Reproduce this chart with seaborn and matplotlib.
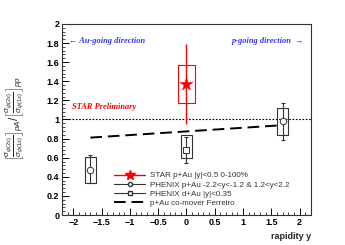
import matplotlib
matplotlib.use("Agg")
import matplotlib.pyplot as plt
import seaborn as sns
import pandas as pd
from matplotlib.patches import Rectangle
from matplotlib.lines import Line2D

# STAR p+Au
star_x = [0.0]
star_y = [1.37]
star_stat = [0.42]
star_sys = [0.20]

# PHENIX p+Au (circles)
phx_pau_x = [-1.7, 1.7]
phx_pau_y = [0.47, 0.98]
phx_pau_stat_lo = [0.14, 0.19]
phx_pau_stat_hi = [0.16, 0.19]
phx_pau_sys_lo = [0.13, 0.14]
phx_pau_sys_hi = [0.14, 0.14]

# PHENIX d+Au (square)
phx_dau_x = [0.0]
phx_dau_y = [0.68]
phx_dau_stat = [0.14]
phx_dau_sys_lo = [0.08]
phx_dau_sys_hi = [0.16]

# Ferreiro co-mover
ferr_x = [-1.7, 0.0, 1.7]
ferr_y = [0.81, 0.875, 0.94]

sns.set_style("white")
plt.rcParams['font.family'] = ['Liberation Sans', 'DejaVu Sans']
plt.rcParams['mathtext.fontset'] = 'custom'
plt.rcParams['mathtext.rm'] = 'Liberation Sans'
plt.rcParams['mathtext.it'] = 'Liberation Sans:italic'

fig = plt.figure(figsize=(3.45, 2.45), dpi=100)
ax = fig.add_axes([0.18, 0.1224, 0.721, 0.78])

# dotted line at 1
ax.axhline(1.0, color='black', ls=(0, (1.5, 1.5)), lw=0.8, zorder=1)

# Ferreiro
sns.lineplot(x=ferr_x, y=ferr_y, ax=ax, color='black', lw=1.4,
             dashes=False, zorder=2)
ax.lines[-1].set_dashes([6, 3])

# PHENIX p+Au boxes and errors
for x, y, slo, shi, elo, ehi in zip(phx_pau_x, phx_pau_y, phx_pau_sys_lo, phx_pau_sys_hi,
                                    phx_pau_stat_lo, phx_pau_stat_hi):
    ax.add_patch(Rectangle((x - 0.1, y - slo), 0.2, slo + shi, fill=False,
                           ec='#333333', lw=0.8, zorder=3))
    ax.errorbar([x], [y], yerr=[[elo], [ehi]], fmt='none', ecolor='#333333',
                elinewidth=0.8, capsize=1.5, capthick=0.8, zorder=3)
sns.scatterplot(x=phx_pau_x, y=phx_pau_y, ax=ax, marker='o', s=22,
                facecolor='white', edgecolor='#333333', linewidth=0.7, zorder=4)

# PHENIX d+Au
for x, y, slo, shi, e in zip(phx_dau_x, phx_dau_y, phx_dau_sys_lo, phx_dau_sys_hi, phx_dau_stat):
    ax.add_patch(Rectangle((x - 0.1, y - slo), 0.2, slo + shi, fill=False,
                           ec='#333333', lw=0.8, zorder=3))
    ax.errorbar([x], [y], yerr=[[e], [e]], fmt='none', ecolor='#333333',
                elinewidth=0.8, capsize=1.5, capthick=0.8, zorder=3)
sns.scatterplot(x=phx_dau_x, y=phx_dau_y, ax=ax, marker='s', s=20,
                facecolor='white', edgecolor='#333333', linewidth=0.7, zorder=4)

# STAR
for x, y, s, e in zip(star_x, star_y, star_sys, star_stat):
    ax.add_patch(Rectangle((x - 0.15, y - s), 0.3, 2 * s, fill=False,
                           ec='red', lw=0.8, zorder=3))
    ax.errorbar([x], [y], yerr=[[e], [e]], fmt='none', ecolor='red',
                elinewidth=1.0, capsize=0, zorder=3)
sns.scatterplot(x=star_x, y=star_y, ax=ax, marker='*', s=100, color='red',
                edgecolor='red', linewidth=0.3, zorder=5)

ax.set_xlim(-2.2, 2.2)
ax.set_ylim(0, 2)
ax.set_xticks([-2, -1.5, -1, -0.5, 0, 0.5, 1, 1.5, 2])
ax.set_xticklabels(['\u22122', '\u22121.5', '\u22121', '\u22120.5', '0', '0.5', '1', '1.5', '2'])
ax.set_yticks([0, 0.2, 0.4, 0.6, 0.8, 1, 1.2, 1.4, 1.6, 1.8, 2])
ax.set_yticklabels(['0', '0.2', '0.4', '0.6', '0.8', '1', '1.2', '1.4', '1.6', '1.8', '2'])
ax.set_xticks([i / 10 for i in range(-22, 23)], minor=True)
ax.set_yticks([i / 25 for i in range(0, 51)], minor=True)
ax.tick_params(axis='both', which='major', direction='in', length=5, width=0.7,
               labelsize=6.5, pad=2, colors='black')
ax.tick_params(axis='both', which='minor', direction='in', length=2.5, width=0.6)
ax.tick_params(axis='both', which='both', top=False, right=False, bottom=True, left=True)
for lbl in ax.get_xticklabels() + ax.get_yticklabels():
    lbl.set_fontweight('bold')
for sp in ax.spines.values():
    sp.set_color('#333333')
    sp.set_linewidth(0.8)

ax.set_xlabel('rapidity y', fontsize=6.5, fontweight='bold', loc='right', labelpad=4)
fig.text(0.045, 0.515,
         r'$\left[\frac{\sigma_{\psi(2s)}}{\sigma_{\psi(1s)}}\right]_{pA} / \left[\frac{\sigma_{\psi(2s)}}{\sigma_{\psi(1s)}}\right]_{pp}$',
         rotation=90, fontsize=8.5, ha='center', va='center')

ax.text(-2.08, 1.82, '\u2190 Au-going direction', color='#3333ff', fontsize=6,
        fontstyle='italic', fontweight='bold', family=['Liberation Serif', 'DejaVu Serif'],
        ha='left', va='center')
ax.text(2.08, 1.82, 'p-going direction  \u2192', color='#3333ff', fontsize=6,
        fontstyle='italic', fontweight='bold', family=['Liberation Serif', 'DejaVu Serif'],
        ha='right', va='center')
ax.text(-2.03, 1.13, 'STAR Preliminary', color='red', fontsize=6,
        fontstyle='italic', fontweight='bold', family=['Liberation Serif', 'DejaVu Serif'],
        ha='left', va='center')

handles = [
    Line2D([], [], color='red', lw=1.0, marker='*', markersize=7, markerfacecolor='red', markeredgecolor='red'),
    Line2D([], [], color='#333333', lw=0.8, marker='o', markersize=3, markerfacecolor='white', markeredgecolor='#333333'),
    Line2D([], [], color='#333333', lw=0.8, marker='s', markersize=3, markerfacecolor='white', markeredgecolor='#333333'),
    Line2D([], [], color='black', lw=1.4, dashes=[6, 3]),
]
labels = ['STAR p+Au |y|<0.5 0-100%',
          'PHENIX p+Au -2.2<y<-1.2 & 1.2<y<2.2',
          'PHENIX d+Au |y|<0.35',
          'p+Au co-mover Ferreiro']
fig.legend(handles, labels, loc='upper left', bbox_to_anchor=(0.32, 0.315),
           frameon=False, fontsize=5.8, handlelength=3.8, handletextpad=0.6,
           labelspacing=0.2, borderpad=0, labelcolor='#333333')

fig.savefig('out.png', dpi=100)
